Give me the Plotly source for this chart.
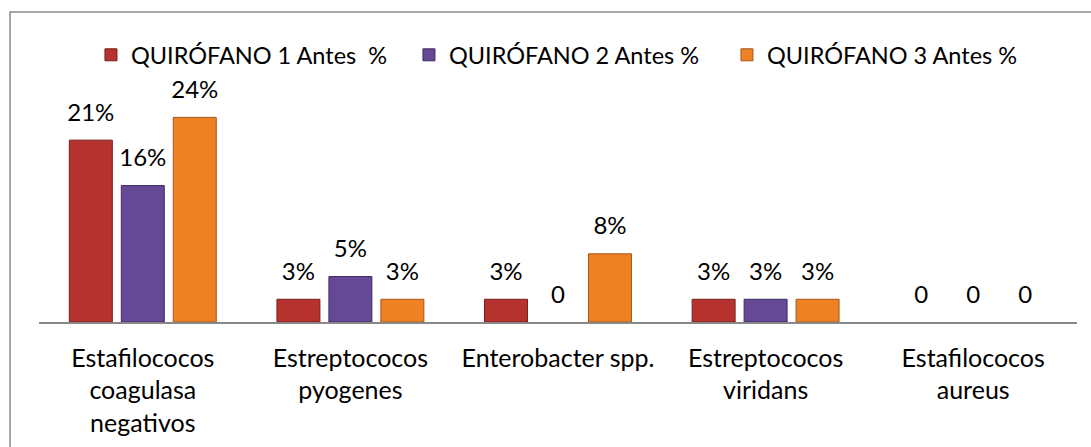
import plotly.graph_objects as go

categories = [
    "Estafilococos<br>coagulasa<br>negativos",
    "Estreptococos<br>pyogenes",
    "Enterobacter spp.",
    "Estreptococos<br>viridans",
    "Estafilococos<br>aureus",
]
series_names = ["QUIRÓFANO 1 Antes\u00a0\u00a0%", "QUIRÓFANO 2 Antes %", "QUIRÓFANO 3 Antes %"]
q1_values = [0.2105, 0.0263, 0.0263, 0.0263, 0.0]
q2_values = [0.1579, 0.0526, 0.0, 0.0263, 0.0]
q3_values = [0.2368, 0.0263, 0.0789, 0.0263, 0.0]
q1_labels = ["21%", "3%", "3%", "3%", "0"]
q2_labels = ["16%", "5%", "0", "3%", "0"]
q3_labels = ["24%", "3%", "8%", "3%", "0"]

fill_colors = ["#B5322F", "#654896", "#EE8123"]
line_colors = ["#7A1E1C", "#3F2B63", "#A5561A"]

FONT = "Lato"
values = [q1_values, q2_values, q3_values]
labels = [q1_labels, q2_labels, q3_labels]

fig = go.Figure()
for name, vals, fc, lc in zip(series_names, values, fill_colors, line_colors):
    fig.add_trace(go.Bar(
        x=categories, y=vals, name=name,
        marker=dict(color=fc, line=dict(color=lc, width=[1 if v > 0 else 0 for v in vals])),
    ))
for vals, labs in zip(values, labels):
    fig.add_trace(go.Scatter(
        x=categories, y=vals, text=labs, mode="markers+text",
        textposition="top center", cliponaxis=False,
        marker=dict(size=20, opacity=0),
        textfont=dict(family=FONT, size=24, color="#000000"),
        showlegend=False, hoverinfo="skip",
    ))

fig.update_layout(
    width=1091, height=447,
    margin=dict(l=39, r=14, t=106, b=125, autoexpand=False),
    paper_bgcolor="white", plot_bgcolor="white",
    barmode="group", bargap=0.249, bargroupgap=0.173,
    scattermode="group", scattergap=0.249,
    font=dict(family=FONT, size=22, color="#000000"),
    legend=dict(
        orientation="h", x=0.5096, xanchor="center", y=1.236, yanchor="middle",
        font=dict(family=FONT, size=23.5), itemwidth=30, traceorder="normal",
        entrywidth=273,
    ),
    xaxis=dict(
        showline=True, linecolor="#888888", linewidth=1.5,
        showgrid=False, ticks="", tickfont=dict(family=FONT, size=25),
        ticklabelstandoff=13, automargin=False,
    ),
    yaxis=dict(range=[0, 0.25], visible=False, showgrid=False, automargin=False),
    shapes=[dict(
        type="rect", xref="paper", yref="paper",
        x0=-0.0279, x1=1.2, y0=-1.0, y1=1.435,
        line=dict(color="#8C8C8C", width=1.5), fillcolor="rgba(0,0,0,0)",
        layer="below",
    )],
)

fig.write_html(
    "out.html",
    config={"displayModeBar": False},
    post_script="document.body.style.margin='0';document.body.style.overflow='hidden';",
)
